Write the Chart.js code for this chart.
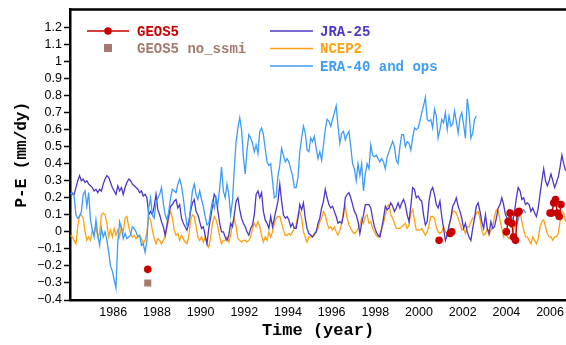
<!DOCTYPE html>
<html>
<head>
<meta charset="utf-8">
<script src="https://cdn.jsdelivr.net/npm/chart.js@4.4.1/dist/chart.umd.min.js"></script>
<style>
  body { margin: 0; background: #fff; }
  #wrap { width: 566px; height: 345px; overflow: hidden; }
</style>
</head>
<body>
<div id="wrap"><canvas id="pe" width="566" height="345"></canvas></div>
<script>
// data, monthly P-E (mm/dy)

// JRA-25, Jan 1984 .. Sep 2006
const jraPE = [
  .23,.22,.22,.26,.30,.33,.30,.31,.29,.30,.28,.27,
  .26,.24,.25,.23,.25,.24,.28,.31,.33,.32,.29,.26,
  .24,.22,.27,.24,.26,.22,.26,.29,.31,.30,.28,.27,
  .26,.25,.23,.24,.21,.22,.20,.10,.12,.10,.15,.22,
  .13,.10,.06,.03,-.02,.04,.10,.15,.16,.18,.19,.14,
  .16,.08,.05,.03,.01,.05,.12,.17,.19,.12,.10,.06,
  .02,.03,-.02,-.07,.02,.08,.15,.22,.20,.12,.05,.00,
  .00,-.03,-.05,-.02,.05,.03,.10,.18,.20,.13,.08,.05,
  .03,.00,-.02,.02,.04,.10,.22,.24,.20,.23,.12,.07,
  .05,.02,.09,.03,.08,.13,.18,.28,.18,.10,.08,.09,
  .07,.03,.05,.02,.02,.08,.16,.13,.17,.08,.02,-.01,
  -.02,-.03,-.01,.00,.05,.08,.14,.18,.25,.20,.16,.14,
  .15,.12,.09,.05,.06,.05,.10,.20,.22,.23,.20,.16,
  .12,.10,.06,-.01,.05,.10,.16,.16,.16,.14,.08,.03,
  .00,-.02,-.03,.02,.08,.15,.13,.14,.17,.15,.12,.14,
  .17,.14,.17,.19,.16,.10,.06,.15,.26,.25,.20,.21,
  .19,.18,.10,.04,.06,.18,.24,.26,.22,.16,.14,.18,
  .09,.02,-.05,-.02,.04,.08,.15,.17,.20,.15,.12,.08,
  .02,.05,.00,-.03,-.05,.02,.08,.15,.17,.12,.06,.02,
  .10,.02,-.01,.06,.02,.03,.08,.14,.16,.20,.16,.10,
  .08,.05,.03,.06,.12,.20,.26,.24,.19,.20,.16,.17,
  .16,.12,.14,.11,.09,.14,.22,.30,.37,.30,.27,.30,
  .34,.30,.26,.29,.32,.38,.45,.40,.36
];

// NCEP2, Jan 1984 .. Sep 2006
const ncepPE = [
  -.02,-.03,-.05,-.07,.03,.10,.10,.08,.00,-.05,-.03,-.05,
  .01,-.01,.03,-.03,-.01,.10,.11,.10,.05,-.03,.01,-.03,
  .02,-.02,.01,-.03,.03,.00,.08,.09,.03,-.01,-.03,-.02,
  -.04,-.03,-.02,-.04,-.07,-.05,.00,.09,.07,.01,-.04,-.07,
  -.04,-.05,-.07,-.05,-.03,.02,.08,.12,.08,.01,-.02,-.01,
  -.05,-.02,-.04,-.06,-.07,-.03,.07,.10,.09,.03,-.03,-.05,
  -.03,-.06,-.03,-.07,-.09,-.03,.05,.09,.07,.03,-.03,-.07,
  -.05,-.05,-.03,-.06,-.02,.05,.08,.03,-.04,-.05,-.06,-.05,
  -.05,-.06,-.05,-.03,.02,.05,.03,.06,.03,-.02,-.06,-.03,
  -.05,.00,-.03,.00,.05,.08,.09,.09,.05,.01,-.02,-.02,
  -.01,-.02,.00,.02,.04,.10,.12,.08,.00,-.03,-.06,-.03,
  -.03,-.03,-.02,.00,.02,.06,.08,.12,.10,.05,.02,.03,
  .01,.03,.00,-.02,.01,.05,.12,.15,.08,.04,.02,.00,
  -.01,.00,.02,.04,.08,.05,.09,.10,.05,.06,.02,.00,
  -.02,-.03,-.01,.02,.05,.10,.15,.16,.10,.08,.05,.02,
  .02,.02,.03,.04,.05,.02,.04,.11,.13,.07,.01,.01,
  .01,.02,.00,-.02,.00,.04,.09,.09,.08,.03,.00,-.01,
  .00,.03,.00,-.01,.03,.08,.12,.12,.11,.08,.05,.01,
  .02,-.01,.03,.03,.06,.08,.08,.11,.12,.08,.01,-.02,
  -.01,.02,-.02,.01,.03,.09,.13,.12,.07,.02,-.03,.00,
  -.03,-.04,-.02,.00,.03,.07,.12,.12,.06,.01,-.03,-.03,
  -.05,-.07,-.03,-.05,-.07,-.04,.03,.06,.07,.03,-.01,-.03,
  -.03,-.05,-.03,-.03,-.01,.06,.12,.11,.06
];

// ERA-40, Jan 1984 .. Aug 2002
const eraPE = [
  .22,.23,.21,.10,.08,.09,.12,.22,.24,.15,.23,.07,
  .01,-.03,.07,-.02,-.08,.02,-.03,.00,-.05,-.12,-.20,-.23,
  -.28,-.33,-.06,.06,.02,-.04,-.01,-.04,-.03,-.02,.03,.02,
  .00,-.03,-.02,-.08,-.07,-.12,-.05,.14,.20,.10,.08,.17,
  .20,.22,.26,.17,.10,.07,.12,.20,.25,.24,.23,.28,
  .31,.27,.20,.11,.04,.06,.14,.24,.28,.22,.19,.24,
  .19,.15,.09,.04,.05,.12,.18,.14,.20,.16,.26,.38,
  .24,.20,.28,.22,.10,.18,.37,.53,.61,.67,.60,.44,
  .34,.48,.57,.55,.52,.47,.51,.46,.59,.61,.57,.49,
  .41,.39,.40,.30,.20,.21,.33,.39,.49,.45,.41,.43,
  .41,.37,.33,.26,.26,.32,.47,.55,.62,.58,.48,.47,
  .55,.53,.56,.49,.43,.47,.42,.51,.60,.66,.65,.62,
  .66,.70,.74,.62,.52,.58,.59,.54,.57,.59,.50,.40,
  .37,.30,.40,.33,.40,.24,.34,.40,.37,.51,.45,.44,
  .45,.43,.41,.43,.41,.37,.44,.47,.50,.53,.50,.42,
  .40,.50,.57,.57,.50,.53,.52,.48,.55,.61,.60,.61,
  .65,.70,.74,.79,.66,.65,.66,.61,.72,.68,.55,.60,
  .66,.64,.70,.60,.68,.62,.63,.71,.65,.58,.67,.70,
  .63,.55,.78,.70,.55,.58,.66,.68
];

// ops, Jan .. Nov 2004
const opsPE = [.12,.13,.10,.07,.05,.03,.07,.11,.12,.13,.11];

// GEOS5 months
const geosTime = [1987.58, 2000.92, 2001.42, 2001.50,
  2004.00, 2004.08, 2004.17, 2004.25, 2004.33, 2004.42, 2004.50, 2004.58,
  2006.00, 2006.08, 2006.17, 2006.25, 2006.33, 2006.42, 2006.50];
const geosPE = [-0.22, -0.05, -0.01, 0.00,
  0.00, 0.06, 0.11, 0.05, -0.03, -0.05, 0.11, 0.12,
  0.11, 0.11, 0.17, 0.19, 0.11, 0.09, 0.16];

const noSsmiTime = [1987.58];
const noSsmiPE = [-0.30];

const xTickYears = [1986, 1988, 1990, 1992, 1994, 1996, 1998, 2000, 2002, 2004, 2006];
const yTickValues = [-0.4, -0.3, -0.2, -0.1, 0, 0.1, 0.2, 0.3, 0.4, 0.5, 0.6,
  0.7, 0.8, 0.9, 1, 1.1, 1.2];

// helpers

function monthly(startYear, values) {
  return values.map((v, i) => ({ x: startYear + (i + 0.5) / 12, y: v }));
}

let eraPts = monthly(1984, eraPE).concat([{ x: 2003.3, y: null }], monthly(2004, opsPE));

let geosPts = [];
geosTime.forEach((t, i) => {
  if (i > 0 && t - geosTime[i - 1] > 0.2) geosPts.push({ x: t - 0.1, y: null });
  geosPts.push({ x: t, y: geosPE[i] });
});

let noSsmiPts = noSsmiTime.map((t, i) => ({ x: t, y: noSsmiPE[i] }));

// frame on top + custom legend

const framePlugin = {
  id: 'frame',
  afterDraw(chart) {
    const ctx = chart.ctx;
    const a = chart.chartArea;
    ctx.save();
    ctx.strokeStyle = '#000';
    ctx.lineWidth = 2.5;
    ctx.beginPath();
    ctx.moveTo(a.left - 1, a.top);
    ctx.lineTo(a.right, a.top);
    ctx.stroke();

    const ds = chart.data.datasets;
    ctx.font = 'bold 14px "Liberation Mono"';
    ctx.textBaseline = 'middle';

    // column 1
    ctx.strokeStyle = ds[0].borderColor;
    ctx.lineWidth = 1.5;
    ctx.beginPath();
    ctx.moveTo(87, 31);
    ctx.lineTo(129, 31);
    ctx.stroke();
    ctx.fillStyle = ds[0].backgroundColor;
    ctx.beginPath();
    ctx.arc(108, 31, 3.8, 0, Math.PI * 2);
    ctx.fill();
    ctx.fillText(ds[0].label, 137, 32);

    ctx.fillStyle = ds[1].backgroundColor;
    ctx.fillRect(104, 44, 8, 8);
    ctx.fillText(ds[1].label, 137, 49);

    // column 2
    [2, 3, 4].forEach((k, row) => {
      const y = 31 + row * 17.5;
      ctx.strokeStyle = ds[k].borderColor;
      ctx.lineWidth = 1.5;
      ctx.beginPath();
      ctx.moveTo(270, y);
      ctx.lineTo(313, y);
      ctx.stroke();
      ctx.fillStyle = ds[k].borderColor;
      ctx.fillText(ds[k].label, 320, y + 1);
    });
    ctx.restore();
  }
};

const tickFont = { family: '"Liberation Sans"', size: 12.5 };

new Chart(document.getElementById('pe'), {
  type: 'line',
  data: {
    datasets: [
      {
        label: 'GEOS5',
        data: geosPts,
        borderColor: '#c80000',
        backgroundColor: '#c80000',
        borderWidth: 1.5,
        pointRadius: 3.8,
        pointBorderWidth: 0,
        order: 0
      },
      {
        label: 'GEOS5 no_ssmi',
        data: noSsmiPts,
        showLine: false,
        borderColor: '#a57a6c',
        backgroundColor: '#a57a6c',
        pointStyle: 'rect',
        pointRadius: 5,
        pointBorderWidth: 0,
        order: 1
      },
      {
        label: 'JRA-25',
        data: monthly(1984, jraPE),
        borderColor: '#4b38c9',
        borderWidth: 1.3,
        pointRadius: 0,
        order: 3
      },
      {
        label: 'NCEP2',
        data: monthly(1984, ncepPE),
        borderColor: '#ffa010',
        borderWidth: 1.3,
        pointRadius: 0,
        order: 4
      },
      {
        label: 'ERA-40 and ops',
        data: eraPts,
        borderColor: '#3d9cf5',
        borderWidth: 1.3,
        pointRadius: 0,
        order: 2
      }
    ]
  },
  options: {
    responsive: false,
    animation: false,
    devicePixelRatio: 1,
    layout: { autoPadding: false, padding: { top: 6, right: 0, left: 0, bottom: 0 } },
    plugins: {
      legend: { display: false },
      tooltip: { enabled: false }
    },
    scales: {
      x: {
        type: 'linear',
        min: 1984.02,
        max: 2006.73,
        afterBuildTicks: s => { s.ticks = xTickYears.map(v => ({ value: v })); },
        afterFit: s => { s.height = 45; s.paddingRight = 0; s.paddingLeft = 0; },
        grid: { drawOnChartArea: false, drawTicks: false },
        border: { display: true, color: '#000', width: 2.5 },
        ticks: {
          font: tickFont,
          color: '#000',
          padding: 5,
          maxRotation: 0,
          autoSkip: false,
          callback: v => String(v)
        },
        title: {
          display: true,
          text: 'Time (year)',
          color: '#000',
          font: { family: '"Liberation Mono"', size: 17, weight: 'bold' },
          padding: { top: 0, bottom: 4 }
        }
      },
      y: {
        min: -0.4,
        max: 1.305,
        afterBuildTicks: s => { s.ticks = yTickValues.map(v => ({ value: v })); },
        afterFit: s => { s.width = 70; },
        grid: { drawOnChartArea: false, drawTicks: true, tickLength: 6, tickWidth: 1.5, tickColor: '#000' },
        border: { display: true, color: '#000', width: 2.5 },
        ticks: {
          font: tickFont,
          color: '#000',
          padding: 2,
          autoSkip: false,
          callback: v => {
            const s = String(Number(v.toFixed(1)));
            return s.replace('-', '\u2212');
          }
        },
        title: {
          display: true,
          text: 'P-E (mm/dy)',
          color: '#000',
          font: { family: '"Liberation Mono"', size: 16, weight: 'bold' },
          padding: { top: 12, bottom: 0 }
        }
      }
    }
  },
  plugins: [framePlugin]
});
</script>
</body>
</html>
